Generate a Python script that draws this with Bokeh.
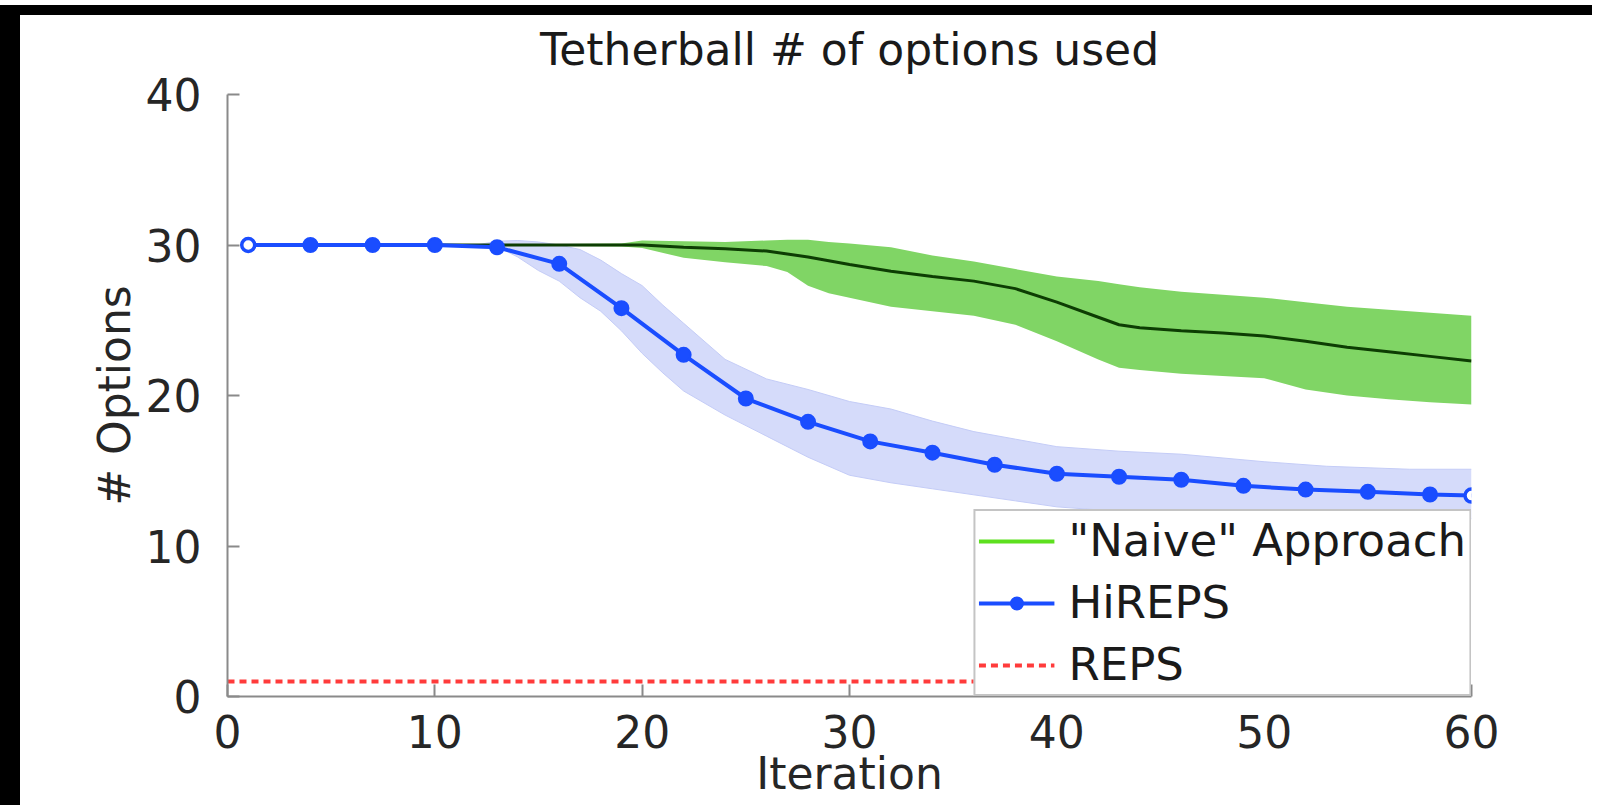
from bokeh.plotting import figure
from bokeh.models import Range1d, Legend, LegendItem
from bokeh.embed import file_html
from bokeh.resources import INLINE

# ---------------- data ----------------
title_text = "Tetherball # of options used"
x_ticks = [0, 10, 20, 30, 40, 50, 60]
y_ticks = [0, 10, 20, 30, 40]

# HiREPS mean (markers)
hireps_x = [1, 4, 7, 10, 13, 16, 19, 22, 25, 28, 31, 34, 37, 40, 43, 46, 49, 52, 55, 58, 60]
hireps_y = [30, 30, 30, 30, 29.85, 28.75, 25.8, 22.7, 19.8, 18.25, 16.95, 16.2, 15.4,
            14.8, 14.6, 14.4, 14.0, 13.75, 13.6, 13.42, 13.35]

# HiREPS confidence band
hb_x = [1, 12, 13, 14, 15, 16, 17, 18, 19, 20, 21, 22, 24, 26, 28, 30, 32, 34, 36, 38,
        40, 43, 46, 50, 53, 57, 60]
hb_upper = [30, 30, 30.25, 30.3, 30.2, 30.0, 29.7, 29.0, 28.1, 27.3, 26.0, 24.8, 22.4,
            21.1, 20.4, 19.6, 19.1, 18.3, 17.6, 17.1, 16.6, 16.3, 16.1, 15.6, 15.3, 15.1, 15.1]
hb_lower = [30, 30, 29.9, 29.2, 28.3, 27.6, 26.5, 25.6, 24.3, 22.8, 21.5, 20.3, 18.7,
            17.3, 15.9, 14.7, 14.2, 13.8, 13.4, 13.0, 12.6, 12.3, 12.0, 11.9, 11.85, 11.8, 11.8]

# "Naive" approach mean and band
nv_x = [1, 13, 15, 19, 20, 22, 24, 26, 27, 28, 29, 30, 32, 34, 36, 38, 40, 42, 43, 44,
        46, 48, 50, 52, 54, 56, 58, 60]
nv_mean = [30, 30, 30, 30, 30, 29.85, 29.75, 29.6, 29.4, 29.2, 28.95, 28.7, 28.25, 27.9,
           27.6, 27.1, 26.2, 25.2, 24.7, 24.5, 24.3, 24.15, 23.95, 23.6, 23.2, 22.9, 22.6, 22.3]
nv_upper = [30, 30, 30.05, 30.1, 30.3, 30.25, 30.2, 30.3, 30.35, 30.35, 30.2, 30.1, 29.85,
            29.3, 28.9, 28.4, 27.9, 27.6, 27.4, 27.2, 26.9, 26.7, 26.5, 26.2, 25.9, 25.7, 25.5, 25.3]
nv_lower = [30, 30, 29.95, 29.9, 29.8, 29.15, 28.85, 28.6, 28.2, 27.3, 26.8, 26.5, 25.9,
            25.6, 25.3, 24.7, 23.6, 22.4, 21.85, 21.7, 21.45, 21.3, 21.15, 20.4, 20.0,
            19.75, 19.55, 19.4]

# REPS (constant)
reps_x = [0, 60]
reps_y = [1, 1]

labels = ['"Naive" Approach', "HiREPS", "REPS"]

# ---------------- figure ----------------
FONT = "DejaVu Sans"
p = figure(width=1605, height=805, x_range=Range1d(0, 60), y_range=Range1d(0, 40),
           output_backend="svg", toolbar_location=None,
           min_border_left=227, min_border_right=134, min_border_top=94, min_border_bottom=109)
p.outline_line_color = None
p.xgrid.visible = False
p.ygrid.visible = False
p.background_fill_color = "white"
p.border_fill_alpha = 0.0
# black bands of the screenshot's frame, painted behind the transparent border
p.styles = {
    "background-color": "white",
    "background-image": "linear-gradient(black, black), linear-gradient(black, black)",
    "background-size": "1592px 10px, 20px 800px",
    "background-position": "0px 5px, 0px 5px",
    "background-repeat": "no-repeat",
}

p.title.text = title_text
p.title.align = "center"
p.title.text_font = FONT
p.title.text_font_size = "44px"
p.title.text_font_style = "normal"
p.title.text_color = "#1a1a1a"
p.title.standoff = 40

p.xaxis.axis_label = "Iteration"
p.yaxis.axis_label = "# Options"
p.xaxis.ticker = x_ticks
p.yaxis.ticker = y_ticks
for ax in (p.xaxis[0], p.yaxis[0]):
    ax.axis_line_color = "#8a8a8a"
    ax.axis_line_width = 2
    ax.major_tick_line_color = "#8a8a8a"
    ax.major_tick_line_width = 2
    ax.major_tick_in = 12
    ax.major_tick_out = 0
    ax.minor_tick_line_color = None
    ax.major_label_text_font = FONT
    ax.major_label_text_font_size = "44px"
    ax.major_label_text_color = "#262626"
    ax.axis_label_text_font = FONT
    ax.axis_label_text_font_size = "44px"
    ax.axis_label_text_font_style = "normal"
    ax.axis_label_text_color = "#262626"
p.xaxis.major_label_standoff = 18
p.xaxis.axis_label_standoff = -3
p.yaxis.major_label_standoff = 26
p.yaxis.axis_label_standoff = 3

# bands
p.varea(x=hb_x, y1=hb_lower, y2=hb_upper, fill_color="#d5dbfa", fill_alpha=1.0)
p.line(hb_x, hb_upper, line_color="#c4ccf7", line_width=1)
p.line(hb_x, hb_lower, line_color="#c4ccf7", line_width=1)
p.varea(x=nv_x, y1=nv_lower, y2=nv_upper, fill_color="#80d565", fill_alpha=1.0)
nv_line = p.line(nv_x, nv_mean, line_color="#0d3d03", line_width=3)
# legend swatch for the "Naive" approach (no visible data)
nv_legend = p.line(x=[float("nan")], y=[float("nan")], line_color="#5de01e", line_width=4)

# HiREPS line and markers
blue = "#1a4dff"
h_line = p.line(hireps_x, hireps_y, line_color=blue, line_width=4)
h_mk = p.scatter(hireps_x[1:-1], hireps_y[1:-1], size=14, marker="circle",
                 fill_color=blue, line_color=blue, line_width=2)
p.scatter([hireps_x[0], hireps_x[-1]], [hireps_y[0], hireps_y[-1]], size=13,
          marker="circle", fill_color="white", line_color=blue, line_width=3.5)

# REPS
r_line = p.line(reps_x, reps_y, line_color="#ff3b3b", line_width=4, line_dash="7 5")

legend = Legend(items=[LegendItem(label=labels[0], renderers=[nv_legend]),
                       LegendItem(label=labels[1], renderers=[h_line, h_mk]),
                       LegendItem(label=labels[2], renderers=[r_line])],
                location="bottom_right", margin=0, padding=3, spacing=9,
                glyph_width=76, glyph_height=30, label_standoff=14,
                label_text_font=FONT, label_text_font_size="45px",
                label_text_color="#1a1a1a", border_line_color="#8a8a8a",
                border_line_width=2, background_fill_color="white", background_fill_alpha=1.0)
p.add_layout(legend, "center")

open("out.html", "w").write(file_html(p, INLINE))
